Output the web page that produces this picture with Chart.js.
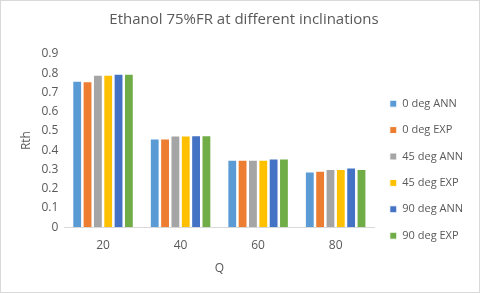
<!DOCTYPE html>
<html>
<head>
<meta charset="utf-8">
<script src="https://cdn.jsdelivr.net/npm/chart.js@4.4.0/dist/chart.umd.min.js"></script>
<style>
  html, body { margin: 0; padding: 0; background: #fff; }
  #wrap { position: relative; width: 478px; height: 291px; border: 1px solid #d9d9d9; }
</style>
</head>
<body>
<div id="wrap"><canvas id="rthChart"></canvas></div>
<script>
const categories = ['20', '40', '60', '80'];
const seriesNames = ['0 deg ANN', '0 deg EXP', '45 deg ANN', '45 deg EXP', '90 deg ANN', '90 deg EXP'];
const deg0Ann = [0.761, 0.461, 0.350, 0.290];
const deg0Exp = [0.758, 0.461, 0.350, 0.293];
const deg45Ann = [0.792, 0.477, 0.350, 0.302];
const deg45Exp = [0.792, 0.477, 0.350, 0.302];
const deg90Ann = [0.797, 0.478, 0.357, 0.310];
const deg90Exp = [0.797, 0.478, 0.357, 0.302];
const yTicks = [0, 0.1, 0.2, 0.3, 0.4, 0.5, 0.6, 0.7, 0.8, 0.9];

const colors = ['#5b9bd5', '#ed7d31', '#a5a5a5', '#ffc000', '#4472c4', '#70ad47'];
const allSeries = [deg0Ann, deg0Exp, deg45Ann, deg45Exp, deg90Ann, deg90Exp];

const fontFamily = "'Open Sans', 'Liberation Sans', sans-serif";
const textColor = '#595959';

document.addEventListener('DOMContentLoaded', () => {
  const ctx = document.getElementById('rthChart').getContext('2d');
  new Chart(ctx, {
    type: 'bar',
    data: {
      labels: categories,
      datasets: allSeries.map((values, i) => ({
        label: seriesNames[i],
        data: values,
        backgroundColor: colors[i],
        borderColor: '#ffffff',
        borderWidth: 1,
        barPercentage: 0.95,
        categoryPercentage: 0.8
      }))
    },
    options: {
      responsive: true,
      maintainAspectRatio: false,
      animation: false,
      layout: { padding: { left: 14, right: 6, top: 3, bottom: 12 } },
      plugins: {
        title: {
          display: true,
          text: 'Ethanol 75%FR at different inclinations',
          color: textColor,
          font: { family: fontFamily, size: 15, weight: 'normal' },
          padding: { top: 7, bottom: 25 }
        },
        legend: {
          position: 'right',
          // empty legend title only pushes the entries down, like in the Excel original
          title: { display: true, text: '', font: { size: 12 }, padding: { top: 0, bottom: 41 } },
          labels: {
            color: textColor,
            font: { family: fontFamily, size: 11 },
            boxWidth: 7,
            boxHeight: 7,
            padding: 15.4
          }
        },
        tooltip: { enabled: false }
      },
      scales: {
        x: {
          grid: { display: false },
          border: { color: '#d9d9d9' },
          ticks: { color: textColor, font: { family: fontFamily, size: 12 } },
          title: {
            display: true,
            text: 'Q',
            color: textColor,
            font: { family: fontFamily, size: 12 },
            padding: { top: 6 }
          }
        },
        y: {
          min: 0,
          max: 0.9,
          afterBuildTicks: (axis) => { axis.ticks = yTicks.map(v => ({ value: v })); },
          grid: { display: false, drawTicks: false },
          border: { display: false },
          ticks: {
            color: textColor,
            font: { family: fontFamily, size: 12 },
            padding: 6,
            callback: (v) => String(Math.round(v * 10) / 10)
          },
          title: {
            display: true,
            text: 'Rth',
            color: textColor,
            font: { family: fontFamily, size: 12 },
            padding: { bottom: 2 }
          }
        }
      }
    }
  });
});
</script>
</body>
</html>
